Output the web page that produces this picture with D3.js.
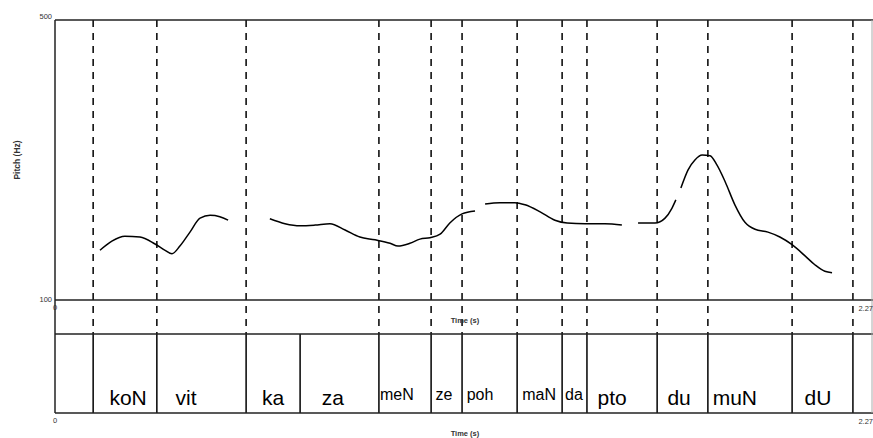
<!DOCTYPE html>
<html>
<head>
<meta charset="utf-8">
<script src="https://cdn.jsdelivr.net/npm/d3@7"></script>
<style>
  body { margin: 0; background: #fff; }
  svg { display: block; font-family: "Liberation Sans", Arial, sans-serif; }
</style>
</head>
<body>
<script>
// time range of the recording (s) and pitch range (Hz)
var timeRange = [0, 2.27];
var pitchRange = [100, 500];

// interval boundaries of the text tier (s)
var boundaries = [0.106, 0.283, 0.531, 0.900, 1.045, 1.131, 1.284, 1.409, 1.478, 1.673, 1.814, 2.048, 2.217];
var tierOnly = [0.681];

// syllable labels: [label time s, text]
var labels = [
  [0.203, "koN"],
  [0.364, "vit"],
  [0.606, "ka"],
  [0.772, "za"],
  [0.950, "meN"],
  [1.081, "ze"],
  [1.181, "poh"],
  [1.345, "maN"],
  [1.442, "da"],
  [1.548, "pto"],
  [1.734, "du"],
  [1.889, "muN"],
  [2.120, "dU"]
];

// pitch track pieces: [time s, f0 Hz]
var pitch1 = [[0.125,171],[0.158,184],[0.194,191],[0.236,190],[0.278,180],[0.306,171],[0.325,166],
  [0.347,177],[0.375,197],[0.403,217],[0.431,221],[0.458,219],[0.481,214]];
var pitch2 = [[0.597,216],[0.639,209],[0.681,206],[0.722,207],[0.764,209],[0.806,200],[0.847,190],
  [0.889,186],[0.931,181],[0.953,177],[0.986,181],[1.014,187],[1.042,189],[1.070,194],[1.097,210],
  [1.131,223],[1.167,227]];
var pitch3 = [[1.195,237],[1.236,239],[1.278,239],[1.306,236],[1.348,226],[1.389,214],[1.423,210],
  [1.473,209],[1.528,209],[1.575,207]];
var pitch4 = [[1.620,210],[1.667,210],[1.695,217],[1.714,231],[1.725,243]];
var pitch5 = [[1.739,260],[1.759,286],[1.778,300],[1.798,307],[1.820,306],[1.839,293],[1.862,269],
  [1.889,236],[1.917,211],[1.945,201],[1.981,197],[2.014,190],[2.048,179],[2.084,163],[2.112,150],
  [2.139,141],[2.159,139]];

var width = 873, height = 438;
var plotLeft = 55, plotRight = 872, plotTop = 20, pitchBottom = 300, tierTop = 334, tierBottom = 413;

var svg = d3.select("body").append("svg")
  .attr("width", width)
  .attr("height", height);

var x = d3.scaleLinear().domain(timeRange).range([plotLeft, plotRight]);
var y = d3.scaleLinear().domain(pitchRange).range([pitchBottom, plotTop]);

// dashed boundary lines through the pitch panel
svg.append("g")
  .selectAll("line")
  .data(boundaries)
  .join("line")
    .attr("x1", d => x(d))
    .attr("x2", d => x(d))
    .attr("y1", plotTop)
    .attr("y2", tierTop)
    .attr("stroke", "#000")
    .attr("stroke-width", 1.5)
    .attr("stroke-dasharray", "7,6");

// tier boundaries (solid)
svg.append("g")
  .selectAll("line")
  .data(boundaries.concat(tierOnly))
  .join("line")
    .attr("x1", d => x(d))
    .attr("x2", d => x(d))
    .attr("y1", tierTop)
    .attr("y2", tierBottom)
    .attr("stroke", "#000")
    .attr("stroke-width", 1.5);

// frame
var frame = svg.append("g").attr("stroke", "#222").attr("stroke-width", 1.5);
frame.append("line").attr("x1", plotLeft).attr("x2", width).attr("y1", plotTop).attr("y2", plotTop);
frame.append("line").attr("x1", plotLeft).attr("x2", width).attr("y1", pitchBottom).attr("y2", pitchBottom);
frame.append("line").attr("x1", plotLeft).attr("x2", width).attr("y1", tierTop).attr("y2", tierTop);
frame.append("line").attr("x1", plotLeft).attr("x2", width).attr("y1", tierBottom).attr("y2", tierBottom);
frame.append("line").attr("x1", plotLeft).attr("x2", plotLeft).attr("y1", plotTop).attr("y2", tierBottom);
svg.append("line").attr("x1", plotRight).attr("x2", plotRight).attr("y1", plotTop).attr("y2", tierBottom)
  .attr("stroke", "#aaa").attr("stroke-width", 1);

// pitch contour
var line = d3.line()
  .curve(d3.curveMonotoneX)
  .x(d => x(d[0]))
  .y(d => y(d[1]));

svg.append("g")
  .selectAll("path")
  .data([pitch1, pitch2, pitch3, pitch4, pitch5])
  .join("path")
    .attr("fill", "none")
    .attr("stroke", "#000")
    .attr("stroke-width", 1.5)
    .attr("d", line);

// tier labels
var small = ["meN", "ze", "poh", "maN", "da"];
svg.append("g")
  .selectAll("text")
  .data(labels)
  .join("text")
    .attr("x", d => x(d[0]))
    .attr("y", d => small.includes(d[1]) ? 400 : 405)
    .attr("text-anchor", "middle")
    .attr("font-size", d => small.includes(d[1]) ? 16 : 21)
    .text(d => d[1]);

// tiny axis texts
var tiny = svg.append("g").attr("font-size", 7.5).attr("fill", "#333");
tiny.append("text").attr("x", plotLeft - 3).attr("y", y(pitchRange[1]) - 1)
  .attr("text-anchor", "end").text(pitchRange[1]);
tiny.append("text").attr("x", plotLeft - 3).attr("y", y(pitchRange[0]) + 2)
  .attr("text-anchor", "end").text(pitchRange[0]);
tiny.append("text").attr("transform", "translate(20," + y(300) + ") rotate(-90)")
  .attr("text-anchor", "middle").attr("font-weight", "bold").attr("font-size", 8.5).text("Pitch (Hz)");
[pitchBottom, tierBottom].forEach(function (yy) {
  tiny.append("text").attr("x", x(timeRange[0])).attr("y", yy + 10)
    .attr("text-anchor", "middle").text(timeRange[0]);
  tiny.append("text").attr("x", width).attr("y", yy + 11)
    .attr("text-anchor", "end").text(timeRange[1]);
  tiny.append("text").attr("x", x(1.139)).attr("y", yy + 23)
    .attr("text-anchor", "middle").attr("font-weight", "bold").text("Time (s)");
});
</script>
</body>
</html>
